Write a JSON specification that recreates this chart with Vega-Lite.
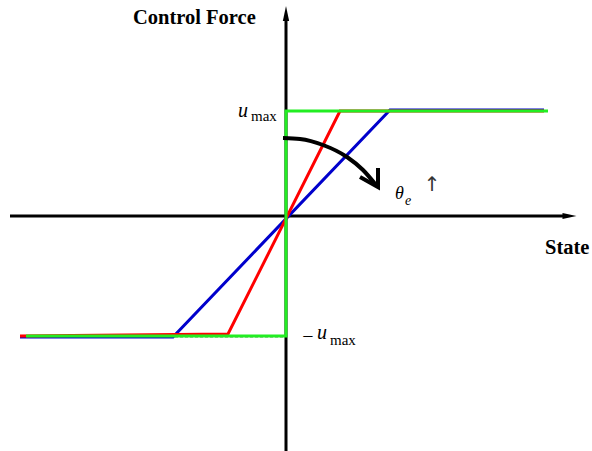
{
  "$schema": "https://vega.github.io/schema/vega-lite/v6.json",
  "autosize": {"type": "none"},
  "width": 592,
  "height": 451,
  "padding": 0,
  "background": "white",
  "config": {"view": {"stroke": null}},
  "datasets": {
    "axes": [
      {"id": "h", "i": 0, "x": -276, "y": 0},
      {"id": "h", "i": 1, "x": 280, "y": 0},
      {"id": "v", "i": 0, "x": 0, "y": -235},
      {"id": "v", "i": 1, "x": 0, "y": 200}
    ],
    "heads": [
      {"id": "right", "x": 283.5, "y": 0},
      {"id": "up", "x": 0, "y": 202.5}
    ],
    "dash": [
      {"id": "lo", "i": 0, "x": -116, "y": -121},
      {"id": "lo", "i": 1, "x": 0, "y": -121},
      {"id": "hi", "i": 0, "x": 0, "y": 105},
      {"id": "hi", "i": 1, "x": 104, "y": 105}
    ],
    "curves": [
      {"s": "blue", "i": 0, "x": -266, "y": -121},
      {"s": "blue", "i": 1, "x": -113, "y": -121},
      {"s": "blue", "i": 2, "x": 104, "y": 106},
      {"s": "blue", "i": 3, "x": 258, "y": 106},
      {"s": "red", "i": 0, "x": -266, "y": -120},
      {"s": "red", "i": 1, "x": -58, "y": -118},
      {"s": "red", "i": 2, "x": 54, "y": 105},
      {"s": "red", "i": 3, "x": 258, "y": 105},
      {"s": "green", "i": 0, "x": -260, "y": -120},
      {"s": "green", "i": 1, "x": 0, "y": -120},
      {"s": "green", "i": 2, "x": 0, "y": 105},
      {"s": "green", "i": 3, "x": 262, "y": 105}
    ],
    "arc": [
      {"i": 0, "x": -3, "y": 78},
      {"i": 1, "x": 14, "y": 77},
      {"i": 2, "x": 37, "y": 71},
      {"i": 3, "x": 61, "y": 59},
      {"i": 4, "x": 77, "y": 46},
      {"i": 5, "x": 90, "y": 31}
    ],
    "chevron": [
      {"i": 0, "x": 92, "y": 48},
      {"i": 1, "x": 92, "y": 29},
      {"i": 2, "x": 74, "y": 39}
    ]
  },
  "layer": [
    {
      "data": {"name": "dash"},
      "mark": {"type": "line", "stroke": "#777777", "strokeWidth": 1, "strokeDash": [3, 2]},
      "encoding": {
        "x": {"field": "x", "type": "quantitative", "scale": {"domain": [-286, 306], "nice": false, "zero": false}, "axis": null},
        "y": {"field": "y", "type": "quantitative", "scale": {"domain": [-235, 216], "nice": false, "zero": false}, "axis": null},
        "detail": {"field": "id"},
        "order": {"field": "i"}
      }
    },
    {
      "data": {"name": "axes"},
      "mark": {"type": "line", "stroke": "black", "strokeWidth": 3},
      "encoding": {
        "x": {"field": "x", "type": "quantitative"},
        "y": {"field": "y", "type": "quantitative"},
        "detail": {"field": "id"},
        "order": {"field": "i"}
      }
    },
    {
      "data": {"name": "heads"},
      "transform": [{"filter": "datum.id == 'right'"}],
      "mark": {"type": "point", "shape": "M0,-1L0.42,1L-0.42,1Z", "filled": true, "fill": "black", "opacity": 1, "size": 196, "angle": 90, "strokeWidth": 0},
      "encoding": {
        "x": {"field": "x", "type": "quantitative"},
        "y": {"field": "y", "type": "quantitative"}
      }
    },
    {
      "data": {"name": "heads"},
      "transform": [{"filter": "datum.id == 'up'"}],
      "mark": {"type": "point", "shape": "M0,-1L0.42,1L-0.42,1Z", "filled": true, "fill": "black", "opacity": 1, "size": 225, "angle": 0, "strokeWidth": 0},
      "encoding": {
        "x": {"field": "x", "type": "quantitative"},
        "y": {"field": "y", "type": "quantitative"}
      }
    },
    {
      "data": {"name": "curves"},
      "mark": {"type": "line", "strokeWidth": 3},
      "encoding": {
        "x": {"field": "x", "type": "quantitative"},
        "y": {"field": "y", "type": "quantitative"},
        "color": {"field": "s", "type": "nominal", "scale": {"domain": ["blue", "red", "green"], "range": ["#0000cc", "#ff0000", "#22ee22"]}, "legend": null},
        "order": {"field": "i"}
      }
    },
    {
      "data": {"name": "arc"},
      "mark": {"type": "line", "stroke": "black", "strokeWidth": 4, "interpolate": "monotone"},
      "encoding": {
        "x": {"field": "x", "type": "quantitative"},
        "y": {"field": "y", "type": "quantitative"},
        "order": {"field": "i"}
      }
    },
    {
      "data": {"name": "chevron"},
      "mark": {"type": "line", "stroke": "black", "strokeWidth": 4, "strokeJoin": "miter"},
      "encoding": {
        "x": {"field": "x", "type": "quantitative"},
        "y": {"field": "y", "type": "quantitative"},
        "order": {"field": "i"}
      }
    },
    {
      "data": {"values": [
        {"t": "Control Force", "x": -153, "y": 192},
        {"t": "State", "x": 259, "y": -38}
      ]},
      "mark": {"type": "text", "font": "Liberation Serif", "fontWeight": "bold", "fontSize": 20.5, "align": "left", "baseline": "alphabetic", "color": "black"},
      "encoding": {
        "x": {"field": "x", "type": "quantitative"},
        "y": {"field": "y", "type": "quantitative"},
        "text": {"field": "t"}
      }
    },
    {
      "data": {"values": [
        {"t": "u", "x": -48, "y": 99},
        {"t": "u", "x": 31, "y": -123}
      ]},
      "mark": {"type": "text", "font": "Liberation Serif", "fontStyle": "italic", "fontSize": 20, "align": "left", "baseline": "alphabetic", "color": "black"},
      "encoding": {
        "x": {"field": "x", "type": "quantitative"},
        "y": {"field": "y", "type": "quantitative"},
        "text": {"field": "t"}
      }
    },
    {
      "data": {"values": [
        {"t": "θ", "x": 109, "y": 17}
      ]},
      "mark": {"type": "text", "font": "Liberation Serif", "fontStyle": "italic", "fontSize": 18, "align": "left", "baseline": "alphabetic", "color": "black"},
      "encoding": {
        "x": {"field": "x", "type": "quantitative"},
        "y": {"field": "y", "type": "quantitative"},
        "text": {"field": "t"}
      }
    },
    {
      "data": {"values": [
        {"t": "e", "x": 119, "y": 11}
      ]},
      "mark": {"type": "text", "font": "Liberation Serif", "fontStyle": "italic", "fontSize": 14, "align": "left", "baseline": "alphabetic", "color": "black"},
      "encoding": {
        "x": {"field": "x", "type": "quantitative"},
        "y": {"field": "y", "type": "quantitative"},
        "text": {"field": "t"}
      }
    },
    {
      "data": {"values": [
        {"t": "max", "x": -35, "y": 95},
        {"t": "max", "x": 44, "y": -129}
      ]},
      "mark": {"type": "text", "font": "Liberation Serif", "fontSize": 15, "align": "left", "baseline": "alphabetic", "color": "black"},
      "encoding": {
        "x": {"field": "x", "type": "quantitative"},
        "y": {"field": "y", "type": "quantitative"},
        "text": {"field": "t"}
      }
    },
    {
      "data": {"values": [
        {"t": "−", "x": 22, "y": -121}
      ]},
      "mark": {"type": "text", "font": "Liberation Serif", "fontSize": 20, "align": "center", "baseline": "middle", "color": "black"},
      "encoding": {
        "x": {"field": "x", "type": "quantitative"},
        "y": {"field": "y", "type": "quantitative"},
        "text": {"field": "t"}
      }
    },
    {
      "data": {"values": [
        {"t": "↑", "x": 146, "y": 31}
      ]},
      "mark": {"type": "text", "font": "DejaVu Sans", "fontSize": 20, "align": "center", "baseline": "middle", "color": "#333333"},
      "encoding": {
        "x": {"field": "x", "type": "quantitative"},
        "y": {"field": "y", "type": "quantitative"},
        "text": {"field": "t"}
      }
    }
  ]
}
